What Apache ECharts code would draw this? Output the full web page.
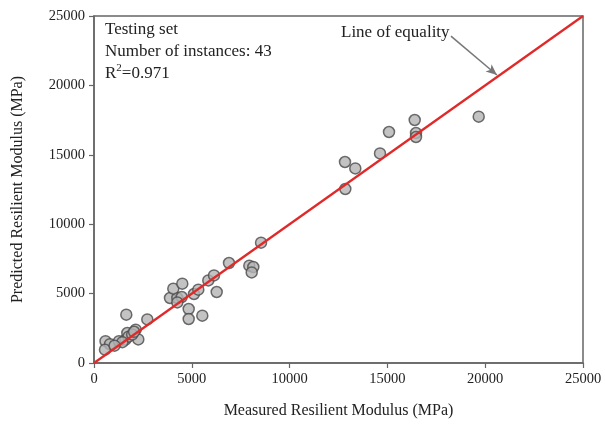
<!DOCTYPE html>
<html>
<head>
<meta charset="utf-8">
<script src="https://cdn.jsdelivr.net/npm/echarts@6/dist/echarts.min.js"></script>
<style>
  html, body { margin: 0; padding: 0; background: #fff; }
  #chart { width: 605px; height: 427px; }
</style>
</head>
<body>
<div id="chart"></div>
<script>
// Measured vs predicted resilient modulus (MPa), testing set
const measured = [
  588, 818, 562, 1278, 1610, 1703, 1651, 2132, 2265, 2725, 1764, 1450, 1950, 1050, 2050,
  3885, 4259, 4484, 4259, 4054, 4514, 4841, 4841, 5537, 5112, 5332, 5844, 6135, 6273,
  6902, 7940, 8144, 8062, 8540,
  12832, 13359, 12848, 14622, 15082, 16396, 16462, 16462, 19668
];
const predicted = [
  1571, 1354, 958, 1571, 1679, 2161, 3480, 2399, 1700, 3141, 1895, 1500, 2050, 1250, 2250,
  4683, 4683, 4755, 4366, 5353, 5713, 3890, 3170, 3408, 4971, 5281, 5951, 6311, 5115,
  7205, 7010, 6916, 6527, 8670,
  14481, 14020, 12536, 15101, 16643, 17507, 16571, 16282, 17745
];
const equalityLine = [[0, 0], [25000, 25000]];
const arrowFrom = [18250, 23550];
const arrowTo = [20600, 20750];
const axisTicks = { min: 0, max: 25000, interval: 5000 };

const serif = '"Liberation Serif", "Times New Roman", serif';
const points = measured.map((m, i) => [m, predicted[i]]);

const chart = echarts.init(document.getElementById('chart'), null, { renderer: 'canvas' });

const axisCommon = {
  min: axisTicks.min,
  max: axisTicks.max,
  interval: axisTicks.interval,
  nameLocation: 'middle',
  nameTextStyle: { fontFamily: serif, fontSize: 16, color: '#222' },
  axisLine: { show: true, lineStyle: { color: '#666', width: 1.5 } },
  axisTick: { show: true, inside: false, length: 5, lineStyle: { color: '#666', width: 1.2 } },
  axisLabel: {
    fontFamily: serif, fontSize: 14.5, color: '#222', margin: 9,
    formatter: (v) => String(v)
  },
  splitLine: { show: false }
};

chart.setOption({
  animation: false,
  backgroundColor: '#fff',
  grid: {
    left: 94, right: 22, top: 16, bottom: 64,
    show: true, borderColor: '#666', borderWidth: 1.5, backgroundColor: 'transparent'
  },
  xAxis: Object.assign({}, axisCommon, {
    type: 'value',
    name: 'Measured Resilient Modulus (MPa)',
    nameGap: 40
  }),
  yAxis: Object.assign({}, axisCommon, {
    type: 'value',
    name: 'Predicted Resilient Modulus (MPa)',
    nameGap: 68
  }),
  graphic: [
    {
      type: 'text', left: 105, top: 19, z: 10,
      style: {
        text: 'Testing set\nNumber of instances: 43\n{r|R}{sup|2}{r|=0.971}',
        fontFamily: serif, fontSize: 17, lineHeight: 22, fill: '#222',
        rich: {
          r: { fontFamily: serif, fontSize: 17, fill: '#222' },
          sup: { fontFamily: serif, fontSize: 11, fill: '#222', verticalAlign: 'top', padding: [0, 0, 9, 0] }
        }
      }
    },
    {
      type: 'text', left: 341, top: 24, z: 10,
      style: { text: 'Line of equality', fontFamily: serif, fontSize: 17, fill: '#222' }
    }
  ],
  series: [
    {
      type: 'line',
      data: equalityLine,
      showSymbol: false,
      lineStyle: { color: '#e02a2a', width: 2.3 },
      z: 3,
      silent: true,
      markLine: {
        silent: true,
        symbol: ['none', 'arrow'],
        symbolSize: [7, 11],
        label: { show: false },
        lineStyle: { color: '#777', width: 1.5, type: 'solid' },
        data: [[{ coord: arrowFrom }, { coord: arrowTo }]]
      }
    },
    {
      type: 'scatter',
      data: points,
      symbol: 'circle',
      symbolSize: 11,
      itemStyle: { color: '#b4b4b4', borderColor: '#4a4a4a', borderWidth: 1.5 },
      z: 2
    }
  ]
});
</script>
</body>
</html>
